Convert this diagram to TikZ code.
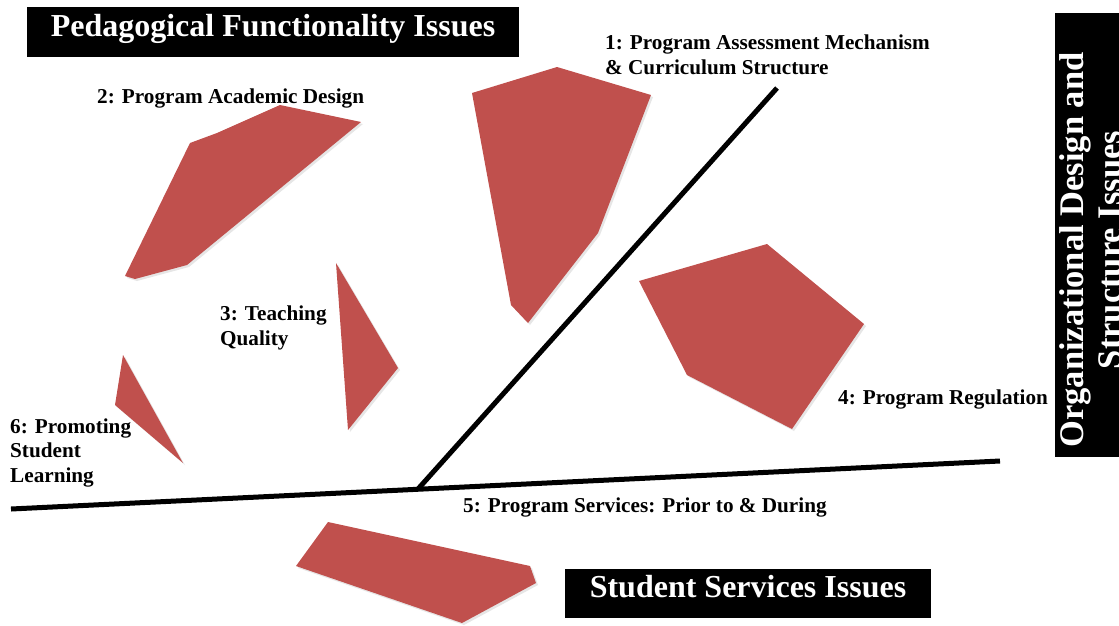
\documentclass[tikz,border=0pt]{standalone}
\usepackage{fontspec}
\setmainfont{Liberation Serif}
\usetikzlibrary{shadows}
\definecolor{issue_red}{RGB}{192, 80, 77}
\tikzstyle{hd}=[fill=black,text=white,inner sep=0pt,text height=22pt,text depth=14pt,
  font=\fontsize{32}{36}\selectfont\bfseries]
\tikzstyle{vhd}=[fill=black,inner sep=0pt,minimum width=444pt,minimum height=80pt,rotate=90]
\tikzstyle{vtxt}=[text=white,inner sep=0pt,align=center,rotate=90,
  font=\fontsize{34.5}{38}\selectfont\bfseries]
\tikzstyle{lb}=[anchor=base west,align=left,inner sep=0pt,
  font=\fontsize{21.2}{24.5}\selectfont\bfseries]
\tikzstyle{patch}=[fill=issue_red,drop shadow={opacity=0.2,shadow xshift=2pt,shadow yshift=-2pt}]
\tikzstyle{bar}=[line width=5pt]
\tikzstyle{none}=[]
\begin{document}
\begin{tikzpicture}[x=1pt, y=-1pt]
	\useasboundingbox (0, 0) rectangle (1119, 625);
	\clip (0, 0) rectangle (1119, 625);
	% issue patches
	\fill [style=patch] (472, 93) -- (557, 67) -- (651, 95) -- (598, 233) -- (528, 323) -- (511, 305) -- cycle;
	\fill [style=patch] (280, 105) -- (361, 122) -- (187, 265) -- (135, 279) -- (125, 276) -- (190, 143) -- (217, 133) -- cycle;
	\fill [style=patch] (336, 263) -- (398, 368) -- (348, 430) -- cycle;
	\fill [style=patch] (639, 281) -- (767, 244) -- (864, 324) -- (792, 429) -- (687, 375) -- cycle;
	\fill [style=patch] (328, 522) -- (530, 566) -- (536, 583) -- (462, 623) -- (296, 566) -- cycle;
	\fill [style=patch] (123, 355) -- (115, 405) -- (183, 463) -- cycle;
	% headings
	\node [style=hd, minimum width=492pt, minimum height=50pt] (0) at (273, 32) {Pedagogical Functionality Issues};
	\node [style=hd, minimum width=366pt, minimum height=49pt] (1) at (748, 593.5) {Student Services Issues};
	\node [style=vhd] (2) at (1095, 235) {};
	\node [style=vtxt] (3) at (1091, 250) {Organizational Design and\\Structure Issues};
	% labels (base = last line)
	\node [style=lb] (4) at (605, 74) {1: Program Assessment Mechanism\\\& Curriculum Structure};
	\node [style=lb] (5) at (97, 103) {2: Program Academic Design};
	\node [style=lb] (6) at (220, 345) {3: Teaching\\Quality};
	\node [style=lb] (7) at (838, 404) {4: Program Regulation};
	\node [style=lb] (8) at (463, 512) {5: Program Services: Prior to \& During};
	\node [style=lb] (9) at (10, 482) {6: Promoting\\Student\\Learning};
	% dividing lines
	\node [style=none] (10) at (777, 88) {};
	\node [style=none] (11) at (418, 489) {};
	\node [style=none] (12) at (11, 509) {};
	\node [style=none] (13) at (1000, 461) {};
	\draw [style=bar] (12.center) to (13.center);
	\draw [style=bar] (10.center) to (11.center);
\end{tikzpicture}
\end{document}
